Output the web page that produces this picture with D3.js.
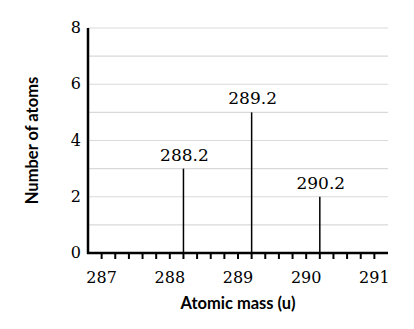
<!DOCTYPE html>
<html>
<head>
<meta charset="utf-8">
<script src="https://d3js.org/d3.v7.min.js"></script>
<style>
  body { margin: 0; background: #fff; }
  .tick-label { font-family: "DejaVu Serif", serif; font-size: 16px; fill: #000; }
  .value-label { font-family: "DejaVu Serif", serif; font-size: 17px; fill: #000; }
  .axis-title { font-family: Lato, sans-serif; font-weight: bold; font-size: 16.5px; fill: #000; }
</style>
</head>
<body>
<svg id="chart"></svg>
<script>
// data
masses = [288.2, 289.2, 290.2];
counts = [3, 5, 2];
xTickValues = [287, 288, 289, 290, 291];
yTickValues = [0, 2, 4, 6, 8];
yGridValues = [1, 2, 3, 4, 5, 6, 7, 8];

width = 414;
height = 329;
left = 88;
right = 388;
top_ = 28;
bottom = 253;

svg = d3.select("#chart")
    .attr("width", width)
    .attr("height", height);

x = d3.scaleLinear().domain([286.8, 291.2]).range([left, right]);
y = d3.scaleLinear().domain([0, 8]).range([bottom, top_]);

// gridlines
svg.append("g")
    .selectAll("line")
    .data(yGridValues).enter()
    .append("line")
    .attr("x1", left)
    .attr("x2", right)
    .attr("y1", (d) => y(d))
    .attr("y2", (d) => y(d))
    .attr("stroke", "#d9d9d9")
    .attr("stroke-width", 1.2);

// minor ticks every 0.2
minorTicks = d3.range(0, 21).map((i) => 287 + i * 0.2);
svg.append("g")
    .selectAll("line")
    .data(minorTicks).enter()
    .append("line")
    .attr("x1", (d) => x(d))
    .attr("x2", (d) => x(d))
    .attr("y1", bottom)
    .attr("y2", bottom + 6)
    .attr("stroke", "#000")
    .attr("stroke-width", 2);

// stems
svg.append("g")
    .selectAll("line")
    .data(masses).enter()
    .append("line")
    .attr("x1", (d) => x(d))
    .attr("x2", (d) => x(d))
    .attr("y1", y(0))
    .attr("y2", (d, i) => y(counts[i]))
    .attr("stroke", "#000")
    .attr("stroke-width", 1.5);

// value labels
svg.append("g")
    .selectAll("text")
    .data(masses).enter()
    .append("text")
    .attr("class", "value-label")
    .attr("x", (d) => x(d) + 1)
    .attr("y", (d, i) => y(counts[i]) - 8)
    .attr("text-anchor", "middle")
    .text((d) => d.toFixed(1));

// axes lines
svg.append("line")
    .attr("x1", left).attr("x2", left)
    .attr("y1", top_).attr("y2", bottom + 1)
    .attr("stroke", "#000").attr("stroke-width", 2.5);
svg.append("line")
    .attr("x1", left - 1).attr("x2", right)
    .attr("y1", bottom).attr("y2", bottom)
    .attr("stroke", "#000").attr("stroke-width", 2.5);

// tick labels
svg.append("g")
    .selectAll("text")
    .data(xTickValues).enter()
    .append("text")
    .attr("class", "tick-label")
    .attr("x", (d) => x(d))
    .attr("y", 283)
    .attr("text-anchor", "middle")
    .text((d) => d);

svg.append("g")
    .selectAll("text")
    .data(yTickValues).enter()
    .append("text")
    .attr("class", "tick-label")
    .attr("x", 81)
    .attr("y", (d) => y(d) + 5)
    .attr("text-anchor", "end")
    .text((d) => d);

// axis titles
svg.append("text")
    .attr("class", "axis-title")
    .attr("x", (left + right) / 2)
    .attr("y", 309)
    .attr("text-anchor", "middle")
    .text("Atomic mass (u)");

svg.append("text")
    .attr("class", "axis-title")
    .attr("transform", "translate(38," + (top_ + bottom) / 2 + ") rotate(-90)")
    .attr("text-anchor", "middle")
    .text("Number of atoms");
</script>
</body>
</html>
